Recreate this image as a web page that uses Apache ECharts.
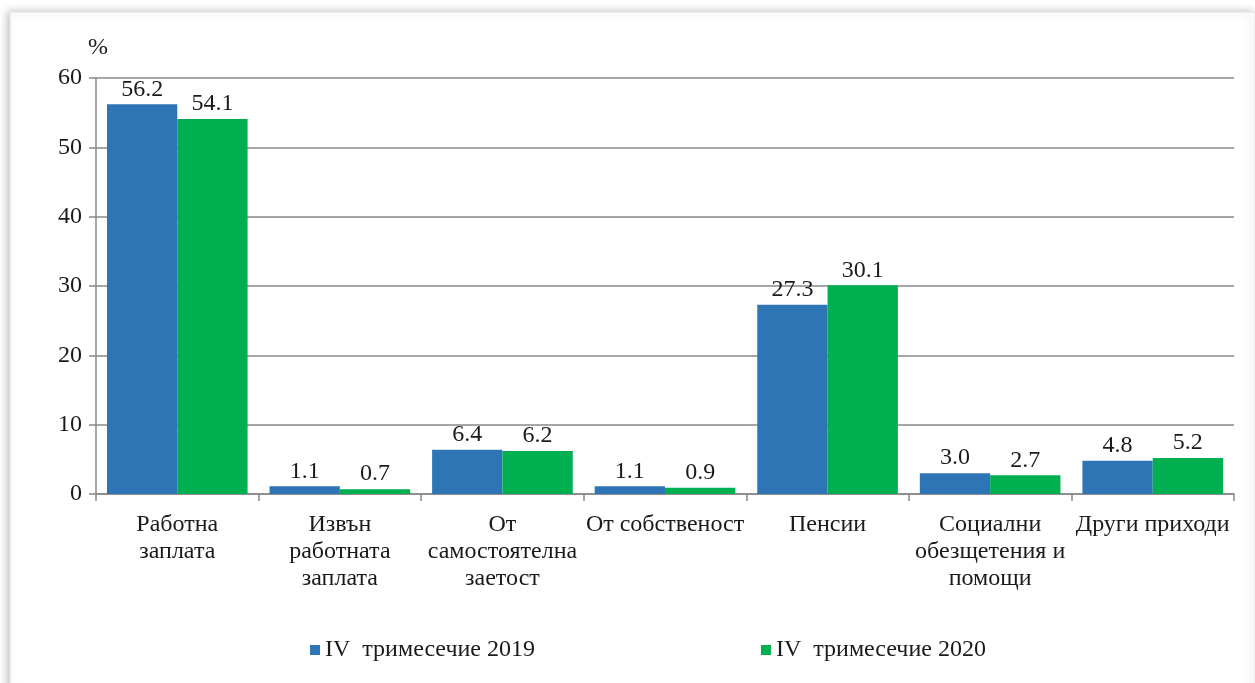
<!DOCTYPE html>
<html><head><meta charset="utf-8">
<script src="https://cdn.jsdelivr.net/npm/echarts@6/dist/echarts.min.js"></script>
<style>html,body{margin:0;padding:0;background:#fff}#c{width:1255px;height:683px}</style>
</head><body><div id="c"></div>
<script>
const categories = ['Работна\nзаплата','Извън\nработната\nзаплата','От\nсамостоятелна\nзаетост','От собственост','Пенсии','Социални\nобезщетения и\nпомощи','Други приходи'];
const seriesNames = ['IV  тримесечие 2019','IV  тримесечие 2020'];
const values2019 = [56.2, 1.1, 6.4, 1.1, 27.3, 3.0, 4.8];
const values2020 = [54.1, 0.7, 6.2, 0.9, 30.1, 2.7, 5.2];
const yTicks = [0, 60, 10];

const font = 'Liberation Serif, Times New Roman, serif';
const fs = 24;
const chart = echarts.init(document.getElementById('c'));
const lbl = {show:true, position:'top', distance:3, fontFamily:font, fontSize:fs, color:'#1a1a1a', formatter:p=>p.value.toFixed(1)};
chart.setOption({
  animation:false,
  backgroundColor:'#fff',
  graphic:[{type:'rect', z:-10, shape:{x:10,y:12,width:1245,height:680}, style:{fill:'#fff', stroke:'#e4e4e4', lineWidth:1, shadowBlur:8, shadowColor:'rgba(0,0,0,0.25)', shadowOffsetX:-2, shadowOffsetY:0}}],
  grid:{left:96, right:21, top:78, bottom:189},
  legend:{top:633, left:305, itemGap:226, itemWidth:10, itemHeight:10, icon:'rect', textStyle:{fontFamily:font, fontSize:fs, color:'#1a1a1a'}, data:seriesNames},
  xAxis:{type:'category', data:categories,
    axisLine:{lineStyle:{color:'#888', width:1.5}},
    axisTick:{show:true, length:7, lineStyle:{color:'#888', width:1.5}},
    axisLabel:{interval:0, margin:17, fontFamily:font, fontSize:fs, color:'#1a1a1a', lineHeight:27}},
  yAxis:{type:'value', min:yTicks[0], max:yTicks[1], interval:yTicks[2], name:'%', nameLocation:'end', nameGap:18,
    nameTextStyle:{fontFamily:font, fontSize:fs, color:'#1a1a1a', align:'left', padding:[0,0,0,-8]},
    axisLine:{show:true, lineStyle:{color:'#888', width:1.5}},
    axisTick:{show:true, length:7, lineStyle:{color:'#888', width:1.5}},
    splitLine:{lineStyle:{color:'#888', width:1.5}},
    axisLabel:{margin:14, fontFamily:font, fontSize:fs, color:'#1a1a1a'}},
  series:[
    {name:seriesNames[0], type:'bar', data:values2019, barGap:'0%', barCategoryGap:'13.5%', itemStyle:{color:'#2E75B6'}, label:lbl},
    {name:seriesNames[1], type:'bar', data:values2020, barGap:'0%', barCategoryGap:'13.5%', itemStyle:{color:'#00B050'}, label:lbl}
  ]
});
</script></body></html>
